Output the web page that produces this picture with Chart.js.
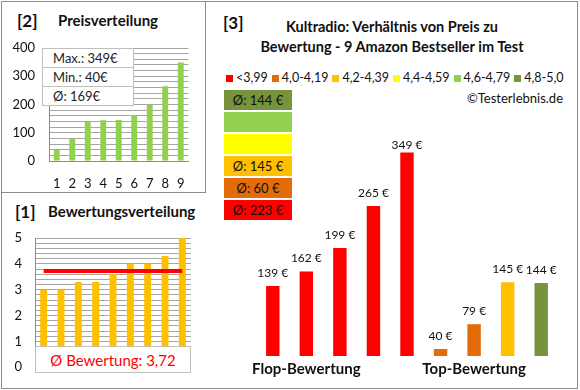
<!DOCTYPE html>
<html lang="de">
<head>
<meta charset="utf-8">
<title>Kultradio Preis / Bewertung</title>
<script src="https://cdn.jsdelivr.net/npm/chart.js@4/dist/chart.umd.min.js"></script>
<style>
    body { margin: 0; background: #fff; font-family: Lato, "Open Sans", sans-serif; color: #111; }
    #page { position: relative; width: 580px; height: 390px; overflow: hidden; }
    .frame { position: absolute; border: 1px solid #8c8c8c; box-sizing: border-box; }
    .abs { position: absolute; white-space: nowrap; line-height: 1; }
    .num { font-size: 17px; font-weight: bold; }
    .head { font-size: 15px; font-weight: bold; }
    canvas { position: absolute; }
    #statBox { position: absolute; left: 42px; top: 48px; width: 90px; background: #fff; border: 1px solid #bfbfbf; z-index: 2; }
    #statBox div { height: 18px; line-height: 18px; padding-left: 10px; font-size: 13px; color: #222; }
    #statBox div + div { border-top: 1px solid #bfbfbf; }
    #avgBadge { position: absolute; left: 35px; top: 346px; width: 156px; height: 27px; line-height: 27px; background: #fff; border: 1px solid #bfbfbf; box-sizing: border-box; text-align: center; color: #ff0000; font-size: 15px; z-index: 2; }
    #legend { position: absolute; left: 226px; top: 71px; width: 350px; display: flex; flex-wrap: nowrap; white-space: nowrap; font-size: 12.5px; line-height: 14px; }
    #legend span.item { display: flex; flex-shrink: 0; align-items: center; margin-right: 4px; }
    #legend span.sq { width: 7px; height: 7px; margin-right: 3px; flex-shrink: 0; }
    #avgStack { position: absolute; left: 224px; top: 90px; width: 68px; }
    #avgStack div { height: 20px; line-height: 20px; margin-bottom: 2px; text-align: center; font-size: 13px; }
</style>
</head>
<body>
<div id="page">
    <div class="frame" style="left:1px; top:1px; width:577px; height:388px;"></div>
    <div class="frame" style="left:1px; top:1px; width:205px; height:192px;"></div>

    <!-- Panel [2] -->
    <div class="abs num" style="left:17px; top:12px;">[2]</div>
    <div class="abs head" style="left:58px; top:13px;">Preisverteilung</div>
    <canvas id="priceChart" width="200" height="192" style="left:0; top:0;"></canvas>
    <div id="statBox"></div>

    <!-- Panel [1] -->
    <div class="abs num" style="left:15px; top:203px;">[1]</div>
    <div class="abs head" style="left:48px; top:204px;">Bewertungsverteilung</div>
    <canvas id="ratingChart" width="205" height="196" style="left:0; top:192px;"></canvas>
    <div id="avgBadge"></div>

    <!-- Panel [3] -->
    <div class="abs num" style="left:223px; top:14px;">[3]</div>
    <div class="abs" style="left:206px; width:372px; top:17px; text-align:center; line-height:20px; font-size:14.5px; font-weight:bold;">
        Kultradio: Verhältnis von Preis zu<br>Bewertung - 9 Amazon Bestseller im Test
    </div>
    <div id="legend"></div>
    <div class="abs" style="right:17px; top:92px; font-size:13px;">©Testerlebnis.de</div>
    <div id="avgStack"></div>
    <canvas id="mainChart" width="372" height="388" style="left:205px; top:0;"></canvas>
</div>

<script>
// Daten
const productIndex = ['1', '2', '3', '4', '5', '6', '7', '8', '9'];
const sortedPrices = [40, 79, 139, 144, 145, 162, 199, 265, 349];
const sortedRatings = [3.0, 3.0, 3.3, 3.3, 3.6, 4.0, 4.0, 4.3, 5.0];
const ratingAverageLine = [3.72, 3.72, 3.72, 3.72, 3.72, 3.72, 3.72, 3.72, 3.72];
const priceStats = ['Max.: 349€', 'Min.: 40€', 'Ø: 169€'];
const ratingAverageText = 'Ø Bewertung: 3,72';

const groupLabels = ['', 'Flop-Bewertung', '', '', '', '', 'Top-Bewertung', '', ''];
const groupPrices = [139, 162, 199, 265, 349, 40, 79, 145, 144];
const groupColors = ['#ff0000', '#ff0000', '#ff0000', '#ff0000', '#ff0000', '#e36c09', '#e36c09', '#ffc000', '#77933c'];

const legendLabels = ['<3,99', '4,0-4,19', '4,2-4,39', '4,4-4,59', '4,6-4,79', '4,8-5,0'];
const legendColors = ['#ff0000', '#e36c09', '#ffc000', '#ffff00', '#92d050', '#77933c'];

const avgBoxLabels = ['Ø: 144 €', '', '', 'Ø: 145 €', 'Ø: 60 €', 'Ø: 223 €'];
const avgBoxColors = ['#77933c', '#92d050', '#ffff00', '#ffc000', '#e36c09', '#ff0000'];

const FONT = 'Lato, "Open Sans", sans-serif';
Chart.defaults.font.family = FONT;
Chart.defaults.color = '#111';
Chart.defaults.animation = false;

// HTML-Teile
document.getElementById('statBox').innerHTML = priceStats.map(s => `<div>${s}</div>`).join('');
document.getElementById('avgBadge').textContent = ratingAverageText;
document.getElementById('legend').innerHTML = legendLabels.map((l, i) =>
    `<span class="item"><span class="sq" style="background:${legendColors[i]}"></span>${l.replace('<', '&lt;')}</span>`).join('');
document.getElementById('avgStack').innerHTML = avgBoxLabels.map((l, i) =>
    `<div style="background:${avgBoxColors[i]}">${l}</div>`).join('');

function fixedWidth(w) { return scale => { scale.width = w; }; }
function fixedHeight(h) { return scale => { scale.height = h; }; }

// Preisverteilung
new Chart(document.getElementById('priceChart'), {
    type: 'bar',
    data: {
        labels: productIndex,
        datasets: [{ data: sortedPrices, backgroundColor: '#92d050', barPercentage: 0.38, categoryPercentage: 1 }]
    },
    options: {
        responsive: false,
        layout: { padding: { top: 48, right: 9, left: 0, bottom: 0 } },
        plugins: { legend: { display: false }, tooltip: { enabled: false } },
        scales: {
            x: {
                grid: { display: false, drawTicks: false },
                border: { color: '#8c8c8c' },
                ticks: { padding: 15, font: { size: 13 } },
                afterFit: fixedHeight(31)
            },
            y: {
                min: 0, max: 400,
                grid: { color: '#a6a6a6', drawTicks: false },
                border: { color: '#8c8c8c' },
                ticks: {
                    stepSize: 20, autoSkip: false, padding: 14, font: { size: 13 },
                    callback: v => (v % 100 === 0 ? v : '')
                },
                afterFit: fixedWidth(49)
            }
        }
    }
});

// Bewertungsverteilung
new Chart(document.getElementById('ratingChart'), {
    type: 'bar',
    data: {
        labels: productIndex,
        datasets: [
            { type: 'line', data: ratingAverageLine, borderColor: '#ff0000', borderWidth: 4, pointRadius: 0, order: 0 },
            { data: sortedRatings, backgroundColor: '#ffc000', barPercentage: 0.4, categoryPercentage: 1, order: 1 }
        ]
    },
    options: {
        responsive: false,
        layout: { padding: { top: 46, right: 14, left: 0, bottom: 0 } },
        plugins: { legend: { display: false }, tooltip: { enabled: false } },
        scales: {
            x: {
                grid: { display: false, drawTicks: false },
                border: { display: false },
                ticks: { display: false },
                afterFit: fixedHeight(14)
            },
            y: {
                min: 0, max: 5,
                grid: { color: '#a6a6a6', drawTicks: false },
                border: { color: '#8c8c8c' },
                ticks: {
                    stepSize: 0.2, autoSkip: false, padding: 13, font: { size: 13 },
                    callback: v => (Math.abs(v - Math.round(v)) < 1e-6 ? Math.round(v) : '')
                },
                afterFit: fixedWidth(35)
            }
        }
    }
});

// Werte über den Balken
const valueLabels = {
    id: 'valueLabels',
    afterDatasetsDraw(chart) {
        const ctx = chart.ctx;
        const meta = chart.getDatasetMeta(0);
        ctx.save();
        ctx.font = '12px ' + FONT;
        ctx.fillStyle = '#111';
        ctx.textAlign = 'center';
        ctx.textBaseline = 'middle';
        meta.data.forEach((bar, i) => {
            const y = Math.max(bar.y - 13, chart.chartArea.top + 7);
            ctx.fillText(groupPrices[i] + ' €', bar.x, y);
        });
        ctx.restore();
    }
};

// Preis zu Bewertung
new Chart(document.getElementById('mainChart'), {
    type: 'bar',
    data: {
        labels: groupLabels,
        datasets: [{ data: groupPrices, backgroundColor: groupColors, barPercentage: 0.4, categoryPercentage: 1 }]
    },
    options: {
        responsive: false,
        layout: { padding: { top: 138, right: 19, left: 51, bottom: 0 } },
        plugins: { legend: { display: false }, tooltip: { enabled: false } },
        scales: {
            x: {
                grid: { display: false, drawTicks: false },
                border: { display: false },
                ticks: { autoSkip: false, maxRotation: 0, minRotation: 0, padding: 4, font: { size: 15, weight: 'bold' } },
                afterFit: fixedHeight(32)
            },
            y: { display: false, min: 29, max: 372 }
        }
    },
    plugins: [valueLabels]
});
</script>
</body>
</html>
